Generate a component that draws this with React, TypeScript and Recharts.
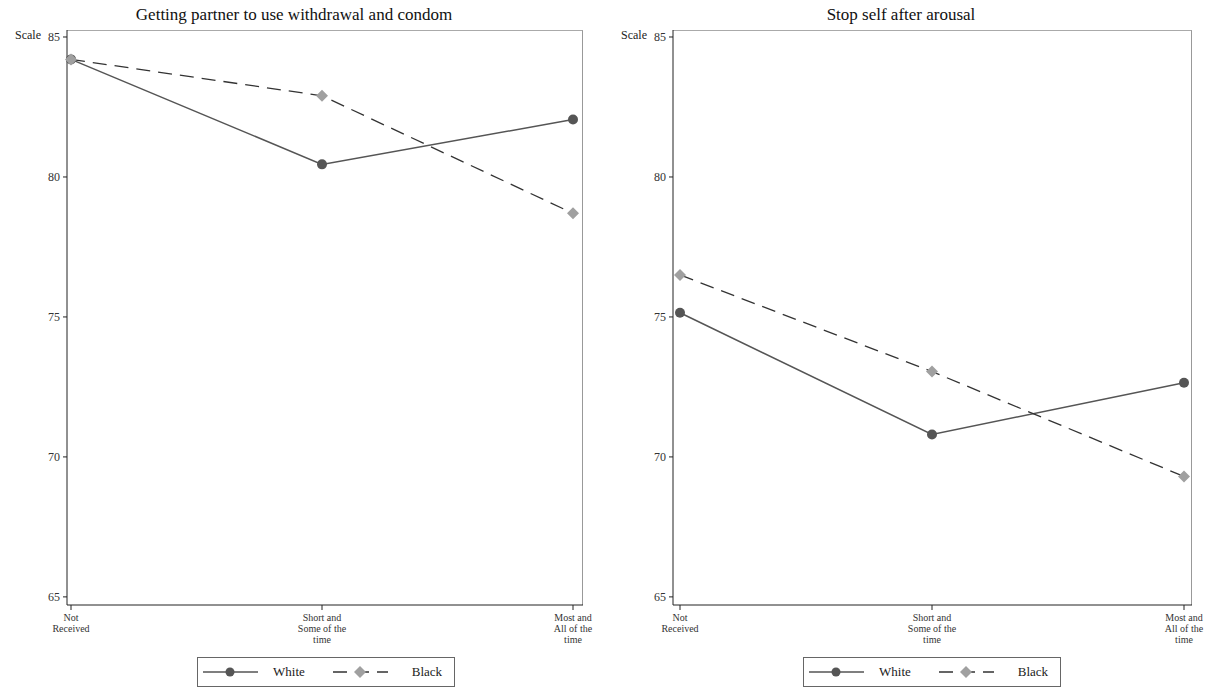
import { LineChart, Line, XAxis, YAxis } from 'recharts'

const categories = ['Not Received', 'Short and Some of the time', 'Most and All of the time']
const tickLines: Record<string, string[]> = {
  'Not Received': ['Not', 'Received'],
  'Short and Some of the time': ['Short and', 'Some of the', 'time'],
  'Most and All of the time': ['Most and', 'All of the', 'time'],
}
const yTicks = [65, 70, 75, 80, 85]

const whitePartner = [84.2, 80.45, 82.05]
const blackPartner = [84.2, 82.9, 78.7]
const whiteStop = [75.15, 70.8, 72.65]
const blackStop = [76.5, 73.05, 69.3]

const FONT = '"Liberation Serif", "DejaVu Serif", serif'
const WHITE_COLOR = '#555555'
const BLACK_MARK = '#a0a0a0'
const TOP = 30
const BOTTOM = 605

function XTick(props: any) {
  const { x, y, payload } = props
  const lines = tickLines[payload.value] || [payload.value]
  return (
    <text x={x} y={y + 9} textAnchor="middle" fontFamily={FONT} fontSize={10} fill="#333">
      {lines.map((l, i) => (
        <tspan key={i} x={x} dy={i === 0 ? 0 : 11}>{l}</tspan>
      ))}
    </text>
  )
}

function Diamond(props: any) {
  const { cx, cy } = props
  if (cx == null || cy == null) return null
  const r = 6
  return <polygon points={`${cx},${cy - r} ${cx + r},${cy} ${cx},${cy + r} ${cx - r},${cy}`} fill={BLACK_MARK} />
}

function Circle(props: any) {
  const { cx, cy } = props
  if (cx == null || cy == null) return null
  return <circle cx={cx} cy={cy} r={5} fill={WHITE_COLOR} />
}

function LegendBox({ left }: { left: number }) {
  return (
    <div
      style={{
        position: 'absolute', left, top: 657, width: 258, height: 30,
        border: '1px solid #666', boxSizing: 'border-box', display: 'flex',
        alignItems: 'center', fontFamily: FONT, fontSize: 13, color: '#222', background: '#fff',
      }}
    >
      <svg width={60} height={14} style={{ marginLeft: 5 }}>
        <line x1={0} y1={7} x2={55} y2={7} stroke={WHITE_COLOR} strokeWidth={1.3} />
        <circle cx={27} cy={7} r={4.5} fill={WHITE_COLOR} />
      </svg>
      <span style={{ marginLeft: 10 }}>White</span>
      <svg width={55} height={14} style={{ marginLeft: 28 }}>
        <line x1={0} y1={7} x2={55} y2={7} stroke="#333" strokeWidth={1.3} strokeDasharray="14 8" />
        <polygon points="27,1 33,7 27,13 21,7" fill={BLACK_MARK} />
      </svg>
      <span style={{ marginLeft: 24 }}>Black</span>
    </div>
  )
}

interface PanelProps {
  title: string
  white: number[]
  black: number[]
  left: number
  width: number
  marginRight: number
  padLeft: number
  padRight: number
  legendLeft: number
  titleCenter: number
}

function Panel({ title, white, black, left, width, marginRight, padLeft, padRight, legendLeft, titleCenter }: PanelProps) {
  const data = categories.map((c, i) => ({ cat: c, white: white[i], black: black[i] }))
  return (
    <div style={{ position: 'absolute', left, top: 0, width, height: 690 }}>
      <div
        style={{
          position: 'absolute', left: titleCenter - 250, width: 500, top: 5, textAlign: 'center',
          fontFamily: FONT, fontSize: 17, color: '#111',
        }}
      >
        {title}
      </div>
      <div style={{ position: 'absolute', left: 15, top: 28, fontFamily: FONT, fontSize: 12, color: '#222' }}>Scale</div>
      {/* grey frame on top and right of the plot area */}
      <div
        style={{
          position: 'absolute', left: 67, top: TOP, width: width - 67 - marginRight, height: BOTTOM - TOP,
          borderTop: '1.5px solid #aaa', borderRight: '1.5px solid #999', boxSizing: 'border-box',
        }}
      />
      <LineChart width={width} height={690} data={data} margin={{ top: TOP, right: marginRight, left: 0, bottom: 690 - BOTTOM - 50 }}>
        <XAxis
          dataKey="cat"
          padding={{ left: padLeft, right: padRight }}
          height={50}
          tick={<XTick />}
          tickSize={5}
          stroke="#222"
          interval={0}
        />
        <YAxis
          domain={[64.71, 85.25]}
          ticks={yTicks}
          width={67}
          tickSize={4}
          tickMargin={3}
          stroke="#222"
          allowDataOverflow
          tick={{ fontFamily: FONT, fontSize: 12, fill: '#333' }}
        />
        <Line
          dataKey="white"
          stroke={WHITE_COLOR}
          strokeWidth={1.5}
          dot={<Circle />}
          activeDot={false}
          isAnimationActive={false}
        />
        <Line
          dataKey="black"
          stroke="#333"
          strokeWidth={1.3}
          strokeDasharray="14 8"
          dot={<Diamond />}
          activeDot={false}
          isAnimationActive={false}
        />
      </LineChart>
      <LegendBox left={legendLeft} />
    </div>
  )
}

export default function App() {
  return (
    <div style={{ position: 'absolute', left: 0, top: 0, width: 1211, height: 690, background: '#fff' }}>
      <Panel
        title="Getting partner to use withdrawal and condom"
        white={whitePartner}
        black={blackPartner}
        left={0}
        width={600}
        marginRight={17}
        padLeft={4}
        padRight={10}
        legendLeft={197}
        titleCenter={294}
      />
      <Panel
        title="Stop self after arousal"
        white={whiteStop}
        black={blackStop}
        left={606}
        width={605}
        marginRight={19}
        padLeft={7}
        padRight={8}
        legendLeft={197}
        titleCenter={295}
      />
    </div>
  )
}
